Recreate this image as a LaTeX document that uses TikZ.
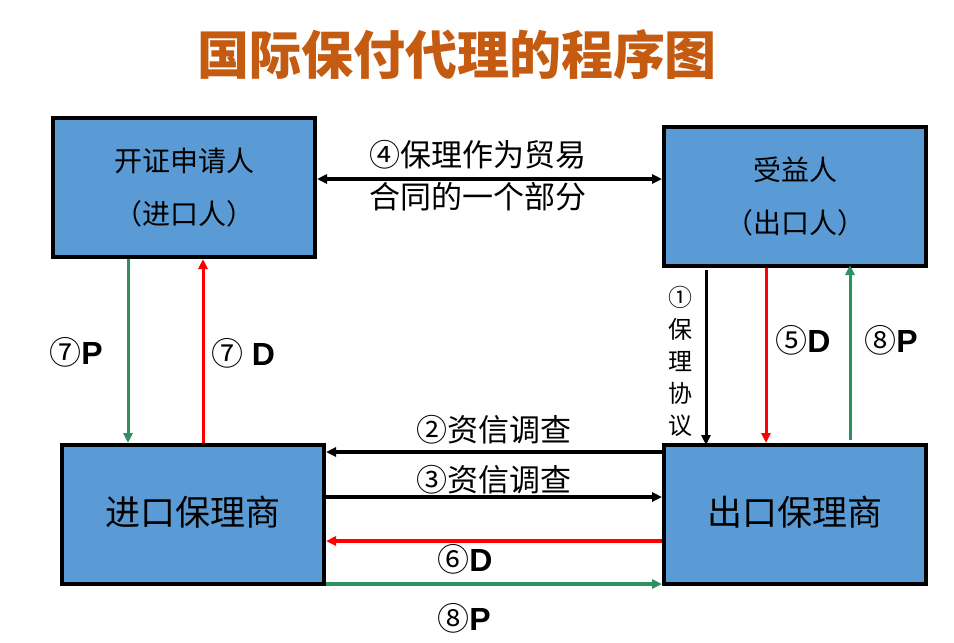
\documentclass[tikz,border=0pt]{standalone}
\usepackage{fontspec}
\setmainfont{Liberation Sans}
\newfontfamily\cjkfont{Noto Sans CJK SC}
\usepackage{tikz}
\usetikzlibrary{arrows.meta}
\usepackage{xcolor}
\definecolor{pfblue}{RGB}{91,155,213}
\definecolor{pfgreen}{RGB}{46,145,95}
\definecolor{pfred}{RGB}{255,0,0}
\definecolor{pforange}{RGB}{197,90,17}
\tikzstyle{party} = [rectangle, minimum width=262pt, minimum height=139pt, text centered, align=center, draw=black, fill=pfblue, line width=4pt]
\tikzstyle{arrow} = [line width=3.5pt,->,>={Triangle[length=10pt,width=9pt]},color=black]
\tikzstyle{parrow} = [arrow, line width=3pt, color=pfgreen]
\tikzstyle{darrow} = [arrow, line width=3pt, color=pfred]
\tikzstyle{lbl} = [inner sep=0pt, font=\fontsize{31}{42}\selectfont\cjkfont, align=center]
\tikzstyle{pdlbl} = [inner sep=0pt, font=\fontsize{32}{36}\selectfont]

\begin{document}
\begin{tikzpicture}[x=1pt, y=-1pt]
\useasboundingbox (0,0) rectangle (954,643);
% Title
\node[font=\fontsize{52}{58}\selectfont\cjkfont\bfseries, text=pforange] (title) at (457,55) {国际保付代理的程序图};

% Parties
\node[party, font=\fontsize{28}{53}\selectfont\cjkfont] (imp) at (184,187.5) {开证申请人\\（进口人）};
\node[party, font=\fontsize{28}{53}\selectfont\cjkfont] (exp) at (795,196.5) {受益人\\（出口人）};

% Factors
\node[party, font=\fontsize{35}{40}\selectfont\cjkfont] (ifac) at (193,514.5) {\raisebox{7pt}{进口保理商}};
\node[party, font=\fontsize{35}{40}\selectfont\cjkfont] (efac) at (795,514.5) {\raisebox{7pt}{出口保理商}};

% Contract
\draw[arrow, <->] ([yshift=8.5pt]imp.east) -- ([yshift=8.5pt]imp.east -| exp.west);
\node[lbl] (contract) at (478,176) {④保理作为贸易\\合同的一个部分};

% Importer side
\draw[parrow] ([xshift=-56pt]imp.south) -- ([xshift=-56pt]imp.south |- ifac.north);
\draw[darrow] ([xshift=10pt]ifac.north) -- ([xshift=10pt]ifac.north |- imp.south);
\node[pdlbl] (p7) at (76,352) {{\cjkfont ⑦}\textbf{P}};
\node[pdlbl] (d7) at (243,353) {{\cjkfont ⑦} \textbf{D}};

% Exporter side
\draw[arrow, line width=3pt] ([xshift=-89pt,yshift=-2pt]exp.south) -- ([xshift=-89pt,yshift=-2pt]exp.south |- efac.north);
\node[lbl, font=\fontsize{24}{32}\selectfont\cjkfont] (agree) at (680,361) {①\\保\\理\\协\\议};
\draw[darrow] ([xshift=-29pt]exp.south) -- ([xshift=-29pt]exp.south |- efac.north);
\draw[parrow] ([xshift=55pt,yshift=3pt]efac.north) -- ([xshift=55pt,yshift=3pt]efac.north |- exp.south);
\node[pdlbl] (d5) at (803,340) {{\cjkfont ⑤}\textbf{D}};
\node[pdlbl] (p8a) at (891,340) {{\cjkfont ⑧}\textbf{P}};

% Between factors
\draw[arrow] ([yshift=62.5pt]efac.west) -- ([yshift=62.5pt]efac.west -| ifac.east);
\node[lbl] (credit2) at (494,430) {②资信调查};
\draw[arrow] ([yshift=17.5pt]ifac.east) -- ([yshift=17.5pt]ifac.east -| efac.west);
\node[lbl] (credit3) at (494,480) {③资信调查};
\draw[darrow, line width=3.5pt] ([yshift=-26.5pt]efac.west) -- ([yshift=-26.5pt]efac.west -| ifac.east);
\node[pdlbl] (d6) at (465,559) {{\cjkfont ⑥}\textbf{D}};
\draw[parrow, line width=3.5pt] ([yshift=-69.5pt]ifac.east) -- ([yshift=-69.5pt]ifac.east -| efac.west);
\node[pdlbl] (p8b) at (464,618) {{\cjkfont ⑧}\textbf{P}};
\end{tikzpicture}
\end{document}
